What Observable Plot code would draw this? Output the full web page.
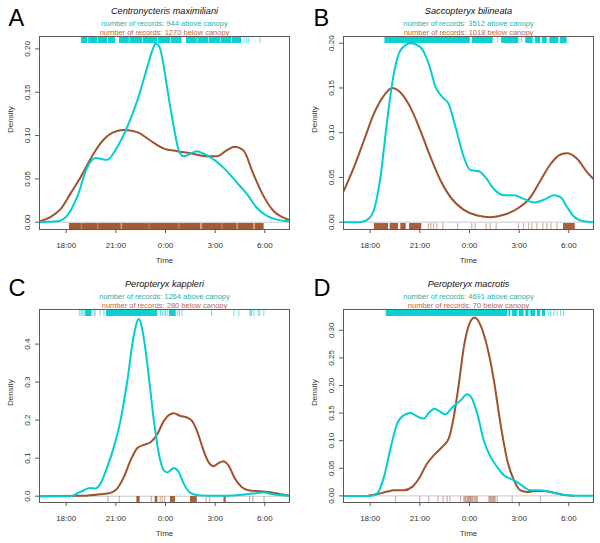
<!DOCTYPE html>
<html>
<head>
<meta charset="utf-8">
<script src="https://cdn.jsdelivr.net/npm/d3@7"></script>
<script src="https://cdn.jsdelivr.net/npm/@observablehq/plot@0.6"></script>
<style>
  html, body { margin: 0; padding: 0; background: #fff; }
  #wrap { position: relative; width: 600px; height: 543px; background: #fff; overflow: hidden; }
  #wrap svg { position: absolute; overflow: visible; }
</style>
</head>
<body>
<div id="wrap"></div>
<script>
// ---------- shared axis data ----------
const xDomain = [16.39, 31.49];
const xTicks = [18, 21, 24, 27, 30];
const xTickLabels = ["18:00", "21:00", "0:00", "3:00", "6:00"];

const letters = ["A", "B", "C", "D"];
const species = ["Centronycteris maximiliani", "Saccopteryx bilineata", "Peropteryx kappleri", "Peropteryx macrotis"];
const nAbove = [944, 3512, 1264, 4691];
const nBelow = [1270, 1018, 280, 70];

// ---------- density curves [hour, density] ----------
const aAbove = [[16.39,0],[17.46,0.001],[18.06,0.0077],[18.66,0.029],[19.27,0.063],[19.77,0.074],[20.48,0.072],[21.08,0.0865],[21.69,0.11],[22.29,0.14],[22.9,0.179],[23.2,0.198],[23.4,0.206],[23.62,0.203],[23.85,0.185],[24.1,0.155],[24.5,0.11],[24.8,0.083],[25.1,0.076],[25.5,0.079],[25.9,0.082],[26.3,0.079],[26.7,0.075],[27.5,0.063],[28.3,0.046],[28.9,0.033],[29.5,0.017],[30.1,0.0077],[30.75,0.003],[31.49,0.001]];
const aBelow = [[16.39,0.001],[17.05,0.006],[17.66,0.015],[18.26,0.033],[18.87,0.052],[19.47,0.073],[20.07,0.091],[20.68,0.102],[21.48,0.1065],[22.29,0.104],[23.1,0.094],[23.9,0.085],[24.7,0.082],[25.5,0.0796],[26.5,0.076],[27.1,0.076],[27.7,0.083],[28.2,0.087],[28.7,0.083],[29.3,0.056],[29.9,0.031],[30.5,0.0135],[31.15,0.005],[31.49,0.0027]];

const bAbove = [[16.41,0],[17.42,0],[17.92,0.004],[18.22,0.013],[18.62,0.05],[19.03,0.114],[19.43,0.166],[19.83,0.192],[20.44,0.2],[21.04,0.1955],[21.54,0.177],[21.95,0.151],[22.35,0.14],[22.75,0.132],[23.16,0.106],[23.66,0.0726],[24.06,0.058],[24.57,0.057],[24.97,0.05],[25.47,0.037],[26.08,0.03],[26.68,0.03],[27.28,0.026],[27.89,0.022],[28.49,0.025],[29.1,0.03],[29.5,0.028],[29.9,0.0168],[30.3,0.0063],[30.9,0.001],[31.5,0]];
const bBelow = [[16.41,0.035],[17.01,0.061],[17.62,0.091],[18.22,0.121],[18.83,0.1415],[19.33,0.15],[19.83,0.145],[20.44,0.128],[21.04,0.102],[21.65,0.0726],[22.25,0.0466],[22.85,0.028],[23.66,0.0138],[24.47,0.0074],[25.27,0.0056],[26.08,0.0082],[26.88,0.015],[27.69,0.028],[28.29,0.0466],[28.9,0.065],[29.5,0.0756],[29.9,0.077],[30.5,0.0708],[31.1,0.056],[31.5,0.048]];

const cAbove = [[16.39,0],[18.26,0],[18.66,0.007],[19.07,0.0157],[19.43,0.0217],[19.77,0.02],[20.07,0.033],[20.48,0.0765],[20.88,0.129],[21.28,0.198],[21.69,0.303],[22.09,0.424],[22.39,0.466],[22.69,0.416],[23.0,0.311],[23.3,0.198],[23.6,0.111],[23.9,0.068],[24.1,0.0626],[24.5,0.074],[24.8,0.0635],[25.1,0.033],[25.5,0.0087],[26.1,0.0017],[27.1,0.001],[28.1,0.0017],[29.3,0.007],[29.9,0.0096],[30.5,0.005],[31.49,0.001]];
const cBelow = [[16.39,0],[19.0,0.001],[20.07,0.005],[20.68,0.0087],[21.08,0.02],[21.48,0.05],[21.89,0.094],[22.29,0.126],[22.69,0.135],[23.1,0.142],[23.5,0.163],[23.9,0.198],[24.3,0.216],[24.5,0.218],[24.9,0.211],[25.3,0.207],[25.6,0.198],[25.9,0.172],[26.3,0.12],[26.6,0.0896],[26.9,0.079],[27.2,0.087],[27.5,0.092],[27.8,0.081],[28.2,0.046],[28.6,0.0243],[29.0,0.0157],[29.74,0.013],[30.35,0.0104],[30.95,0.005],[31.49,0.0017]];

const dAbove = [[16.39,0],[18.0,0],[18.42,0.004],[18.83,0.034],[19.23,0.086],[19.63,0.131],[20.03,0.146],[20.44,0.15],[20.84,0.144],[21.24,0.14],[21.54,0.15],[21.89,0.158],[22.25,0.152],[22.55,0.148],[22.95,0.16],[23.46,0.173],[23.86,0.184],[24.1,0.179],[24.47,0.149],[24.87,0.1],[25.27,0.0707],[25.67,0.0525],[26.08,0.0374],[26.48,0.031],[26.88,0.025],[27.28,0.0163],[27.69,0.01],[28.19,0.01],[28.7,0.0085],[29.3,0.0042],[29.9,0.0012],[31.49,0]];
const dBelow = [[17.92,0.0006],[18.42,0.003],[19.03,0.0078],[19.43,0.01],[20.03,0.01],[20.54,0.0163],[20.94,0.031],[21.44,0.0586],[21.85,0.0737],[22.35,0.0888],[22.75,0.104],[23.05,0.143],[23.36,0.2035],[23.66,0.27],[23.96,0.309],[24.3,0.323],[24.67,0.309],[25.07,0.27],[25.47,0.21],[25.87,0.131],[26.28,0.0646],[26.68,0.0284],[27.08,0.01],[27.49,0.0072],[27.99,0.009],[28.5,0.009],[29.1,0.0054],[29.7,0.0018],[30.3,0]];

// ---------- rug records: dense blocks [start, end] and single records ----------
const aRugAboveBlocks = [[18.93,19.32],[19.36,19.92],[19.95,20.52],[20.55,20.98],[21.22,21.82],[21.85,22.62],[22.65,23.52],[23.55,24.32],[24.35,25.0],[25.27,25.92],[25.95,26.62],[26.65,27.32],[27.35,28.02],[28.05,28.6]];
const aRugAboveTicks = [28.75, 28.9, 29.04, 29.7];
const aRugBelowBlocks = [[18.2,18.92],[18.97,19.92],[19.97,21.32],[21.42,23.02],[23.08,24.82],[24.88,26.12],[26.25,27.42],[27.48,28.32],[28.42,29.32],[29.45,29.95]];
const aRugBelowTicks = [18.95, 19.95, 21.38, 23.05, 24.85, 26.2, 27.45, 28.38, 29.4];

const bRugAboveBlocks = [[18.89,24.05],[24.17,25.43],[25.94,26.98],[27.4,27.85],[28.0,28.3],[28.4,28.7],[28.85,29.4],[29.5,29.9]];
const bRugAboveTicks = [25.7, 27.15, 27.95];
const bRugBelowBlocks = [[18.26,19.11],[19.21,19.71],[19.85,20.18],[20.38,21.12],[29.68,30.39]];
const bRugBelowTicks = [21.52,21.67,21.83,22.03,22.39,23.28,24.14,24.34,25.01,25.25,25.61,26.96,27.26,27.57,27.77,28.07,28.43,28.67,28.92,29.28];

const cRugAboveBlocks = [[19.17,19.57],[20.44,23.54],[24.24,24.65]];
const cRugAboveTicks = [18.82,18.9,19.0,19.08,19.67,19.75,20.05,20.28,23.7,23.8,23.9,24.0,24.1,24.75,24.85,25.0,26.78,28.13,28.43,29.1,29.15,29.2,29.34,29.6,29.7,29.94];
const cRugBelowBlocks = [[22.27,22.47],[23.38,23.54],[24.3,24.6],[25.51,25.92],[27.53,27.67]];
const cRugBelowTicks = [20.52,21.22,23.14,23.68,23.8,23.94,26.46,26.66,29.08,29.28,29.95];

const dRugAboveBlocks = [[18.97,26.3],[26.38,26.5],[26.6,26.9],[27.0,27.3],[27.4,27.6],[27.7,28.0],[28.1,28.3],[28.4,28.6]];
const dRugAboveTicks = [28.75,28.9,29.1,29.3,29.5,29.68];
const dRugBelowBlocks = [];
const dRugBelowTicks = [19.53,21.0,21.54,22.09,22.41,22.65,22.81,23.46,23.66,23.72,23.78,23.85,23.9,23.95,24.0,24.05,24.1,24.15,24.2,24.28,24.35,24.42,24.47,25.17,25.22,25.28,25.33,25.4,25.45,25.5,25.55,25.67,26.58,28.29];

// ---------- y axes ----------
const aYTicks = [0, 0.05, 0.10, 0.15, 0.20];
const bYTicks = [0, 0.05, 0.10, 0.15, 0.20];
const cYTicks = [0, 0.1, 0.2, 0.3, 0.4];
const dYTicks = [0, 0.05, 0.10, 0.15, 0.20, 0.25, 0.30];

const CYAN = "#00CED1";
const BROWN = "#A0522D";
const CYAN_TXT = "#22B3AC";
const BROWN_TXT = "#B86A48";
const FONT = "Liberation Sans, Arial, Helvetica, sans-serif";

const panels = [
  {i:0, left:0,   top:0,   width:300, height:270, mL:39, mR:11, mT:36, mB:41,
   above:aAbove, below:aBelow, yDomain:[-0.0084,0.2143], yTicks:aYTicks, yDigits:2,
   rAB:aRugAboveBlocks, rAT:aRugAboveTicks, rBB:aRugBelowBlocks, rBT:aRugBelowTicks, belowBase:[18.2,29.95]},
  {i:1, left:300, top:0,   width:300, height:270, mL:43, mR:7, mT:36, mB:41,
   above:bAbove, below:bBelow, yDomain:[-0.0082,0.2075], yTicks:bYTicks, yDigits:2,
   rAB:bRugAboveBlocks, rAT:bRugAboveTicks, rBB:bRugBelowBlocks, rBT:bRugBelowTicks, belowBase:null},
  {i:2, left:0,   top:270, width:300, height:273, mL:39, mR:11, mT:39, mB:41,
   above:cAbove, below:cBelow, yDomain:[-0.0166,0.491], yTicks:cYTicks, yDigits:1,
   rAB:cRugAboveBlocks, rAT:cRugAboveTicks, rBB:cRugBelowBlocks, rBT:cRugBelowTicks, belowBase:null},
  {i:3, left:300, top:270, width:300, height:273, mL:43, mR:7, mT:39, mB:41,
   above:dAbove, below:dBelow, yDomain:[-0.012,0.3377], yTicks:dYTicks, yDigits:2,
   rAB:dRugAboveBlocks, rAT:dRugAboveTicks, rBB:dRugBelowBlocks, rBT:dRugBelowTicks, belowBase:null}
];

const wrap = document.getElementById("wrap");

for (const p of panels) {
  const fh = p.height - p.mT - p.mB; // frame height
  const topRug = 7, botRug = 6;
  const marks = [
    Plot.ruleY([0], {stroke: "#c8c8c8", strokeWidth: 1}),
    Plot.rectX(p.rAB, {x1: d => d[0], x2: d => d[1], insetBottom: fh - topRug, fill: CYAN, fillOpacity: 0.95}),
    Plot.ruleX(p.rAT, {x: d => d, insetBottom: fh - topRug, stroke: CYAN, strokeOpacity: 0.6, strokeWidth: 1}),
    ...(p.belowBase ? [Plot.rectX([p.belowBase], {x1: d => d[0], x2: d => d[1], insetTop: fh - botRug, fill: BROWN, fillOpacity: 0.45})] : []),
    Plot.rectX(p.rBB, {x1: d => d[0], x2: d => d[1], insetTop: fh - botRug, fill: BROWN, fillOpacity: 0.92}),
    Plot.ruleX(p.rBT, {x: d => d, insetTop: fh - botRug, stroke: BROWN, strokeOpacity: 0.45, strokeWidth: 1.2}),
    Plot.line(p.below, {x: d => d[0], y: d => d[1], stroke: BROWN, strokeWidth: 2, curve: "monotone-x", clip: true}),
    Plot.line(p.above, {x: d => d[0], y: d => d[1], stroke: CYAN, strokeWidth: 2, curve: "monotone-x", clip: true}),
    Plot.frame({stroke: "#5a5a5a", strokeWidth: 1}),
    Plot.axisX({ticks: xTicks, tickSize: 4, tickFormat: () => "", label: null, stroke: "#5a5a5a"}),
    Plot.axisY({ticks: p.yTicks, tickSize: 4, tickFormat: () => "", label: null, stroke: "#5a5a5a"}),
    Plot.text(xTicks, {x: d => d, text: (d, i) => xTickLabels[i], frameAnchor: "bottom", dy: 15.5, lineAnchor: "middle", fontSize: 8, fill: "#333"}),
    Plot.text(p.yTicks, {y: d => d, text: d => d.toFixed(p.yDigits), frameAnchor: "left", dx: -12, rotate: -90, textAnchor: "middle", lineAnchor: "middle", fontSize: 8, fill: "#333"}),
    Plot.text(["Time"], {frameAnchor: "bottom", dy: 30.5, lineAnchor: "middle", fontSize: 8, fill: "#333"}),
    Plot.text(["Density"], {frameAnchor: "left", dx: -29, rotate: -90, lineAnchor: "middle", fontSize: 8, fill: "#333"}),
    Plot.text([species[p.i]], {frameAnchor: "top", dy: -25.5, lineAnchor: "middle", fontSize: 9.2, fontStyle: "italic", fill: "#111"}),
    Plot.text([`number of records: ${nAbove[p.i]} above canopy`], {frameAnchor: "top", dy: -12.8, lineAnchor: "middle", fontSize: 7.5, fill: CYAN_TXT}),
    Plot.text([`number of records: ${nBelow[p.i]} below canopy`], {frameAnchor: "top", dy: -4.2, lineAnchor: "middle", fontSize: 7.5, fill: BROWN_TXT}),
    Plot.text([letters[p.i]], {frameAnchor: "top-left", dx: (p.i % 2 === 0 ? 8 : 13) - p.mL, dy: 25 - p.mT, lineAnchor: "bottom", textAnchor: "start", fontSize: 23.5, fill: "#000"})
  ];
  const svg = Plot.plot({
    width: p.width, height: p.height,
    marginLeft: p.mL, marginRight: p.mR, marginTop: p.mT, marginBottom: p.mB,
    style: {fontFamily: FONT, background: "transparent", overflow: "visible"},
    x: {domain: xDomain, axis: null},
    y: {domain: p.yDomain, axis: null},
    marks
  });
  svg.style.left = p.left + "px";
  svg.style.top = p.top + "px";
  wrap.appendChild(svg);
}
</script>
</body>
</html>
